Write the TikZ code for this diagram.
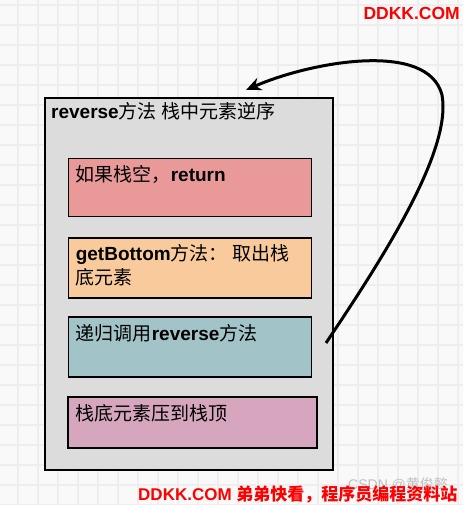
\documentclass[tikz,border=0pt]{standalone}
\usepackage{fontspec}
\setmainfont{Liberation Sans}
\newfontfamily\cjk{Noto Sans CJK SC}
\usetikzlibrary{arrows.meta}

\definecolor{bggray}{HTML}{F9F9F9}
\definecolor{gridgray}{HTML}{EEEEEE}
\definecolor{framegray}{HTML}{DCDCDC}
\definecolor{boxred}{HTML}{EA9999}
\definecolor{boxorange}{HTML}{F9CB9C}
\definecolor{boxteal}{HTML}{A2C4C9}
\definecolor{boxpink}{HTML}{D5A6BD}
\definecolor{wmred}{HTML}{FF0000}

\newcommand{\zh}[1]{{\cjk #1}}

\begin{document}
\begin{tikzpicture}[x=1pt, y=-1pt,
	% Define the styles
	framebox/.style={draw=black, line width=2pt, fill=framegray, inner sep=0pt},
	stackbox/.style={draw=black, line width=1.8pt, inner sep=0pt, minimum width=243pt},
	boxtext/.style={anchor=base west, inner sep=0pt, align=left, font=\fontsize{19}{24}\selectfont},
	wmtext/.style={inner sep=0pt, text=wmred, font=\bfseries\fontsize{17}{20}\selectfont},
	gridline/.style={draw=gridgray, line width=1.5pt},
	recarrow/.style={line width=3pt, -{Stealth[length=15pt, width=13pt]}}
	]
	
	% --- BACKGROUND ---
	\useasboundingbox (0,0) rectangle (463,505);
	\fill[bggray] (0,0) rectangle (463,505);
	\foreach \gx in {18,38,...,458} \draw[gridline] (\gx,0) -- (\gx,505);
	\foreach \gy in {5,25,...,505} \draw[gridline] (0,\gy) -- (463,\gy);
	
	% --- BOXES ---
	\node[framebox, minimum width=288pt, minimum height=372pt] (outer) at (189,284) {};
	\node[stackbox, fill=boxred, minimum height=58pt] (b1) at (190,187.5) {};
	\node[stackbox, fill=boxorange, minimum height=60pt] (b2) at (190,268) {};
	\node[stackbox, fill=boxteal, minimum height=60pt] (b3) at (190,347) {};
	\node[stackbox, fill=boxpink, minimum width=249pt, minimum height=51pt] (b4) at (192.5,422.5) {};
	
	% --- TEXTS ---
	% (base of a two-line node sits on its last line)
	\node[boxtext] (title) at ([xshift=7pt,yshift=-22pt]outer.north west) {\textbf{reverse}\zh{方法 栈中元素逆序}};
	\node[boxtext] (t1) at ([xshift=8pt,yshift=-24pt]b1.north west) {\zh{如果栈空，}\textbf{return}};
	\node[boxtext] (t2) at ([xshift=8pt,yshift=-47pt]b2.north west) {\textbf{getBottom}\zh{方法： 取出栈}\\\zh{底元素}};
	\node[boxtext] (t3) at ([xshift=8pt,yshift=-24pt]b3.north west) {\zh{递归调用}\textbf{reverse}\zh{方法}};
	\node[boxtext] (t4) at ([xshift=8pt,yshift=-24pt]b4.north west) {\zh{栈底元素压到栈顶}};
	
	% --- RECURSION ARROW ---
	\coordinate (callsite) at (326,343);
	\coordinate (reentry) at (246,90);
	\draw[recarrow] (callsite) .. controls (385,255) and (452,150) .. (442,95)
		.. controls (428,40) and (310,62) .. (reentry);
	
	% --- WATERMARKS ---
	\node[wmtext, anchor=base east, font=\bfseries\fontsize{17.5}{20}\selectfont] (wmtop) at (460,20) {DDKK.COM};
	\node[anchor=base west, inner sep=0pt, text=black!25, font=\fontsize{14}{16}\selectfont] (csdn) at (348,489) {CSDN @\zh{黄俊懿}};
	\node[wmtext, anchor=base west] (wmbottom) at (138,500) {DDKK.COM \zh{弟弟快看，程序员编程资料站}};
	
\end{tikzpicture}
\end{document}
